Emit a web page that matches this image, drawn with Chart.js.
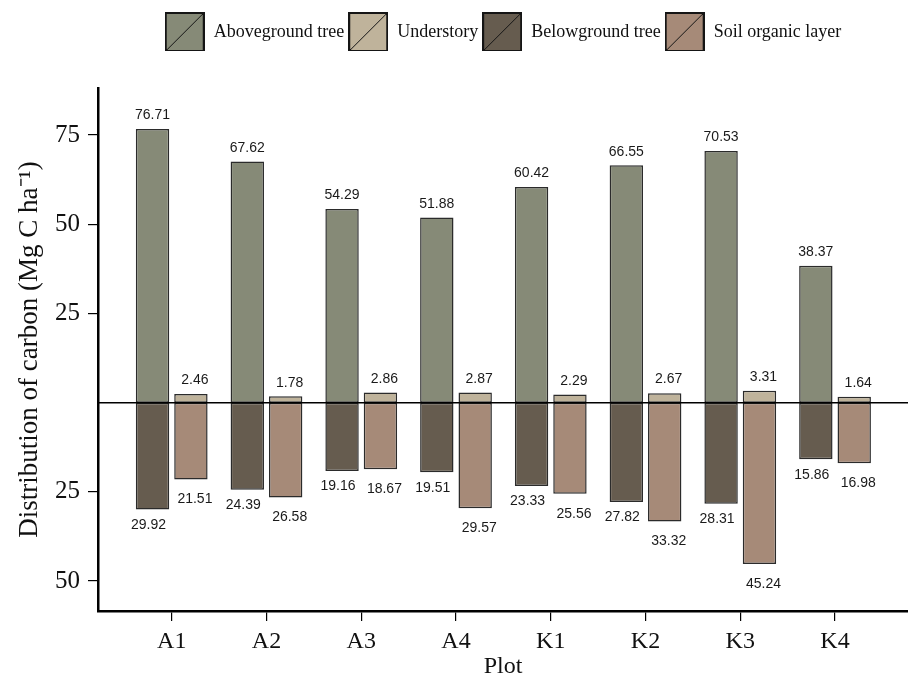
<!DOCTYPE html>
<html>
<head>
<meta charset="utf-8">
<title>Distribution of carbon</title>
<script src="https://cdn.jsdelivr.net/npm/chart.js@4.4.1/dist/chart.umd.min.js"></script>
<style>
  html, body { margin: 0; padding: 0; background: #fff; }
  canvas { display: block; }
</style>
</head>
<body>
<canvas id="grafico" width="908" height="679"></canvas>
<script>
// valori (Mg C ha-1)
const plots = ['A1', 'A2', 'A3', 'A4', 'K1', 'K2', 'K3', 'K4'];
const aboveground = [76.71, 67.62, 54.29, 51.88, 60.42, 66.55, 70.53, 38.37];
const understory = [2.46, 1.78, 2.86, 2.87, 2.29, 2.67, 3.31, 1.64];
const belowground = [29.92, 24.39, 19.16, 19.51, 23.33, 27.82, 28.31, 15.86];
const soil = [21.51, 26.58, 18.67, 29.57, 25.56, 33.32, 45.24, 16.98];
const yTicks = [-50, -25, 25, 50, 75];

const colori = ['#868a77', '#bfb39b', '#665c4f', '#a68a78'];

Chart.defaults.font.family = '"Liberation Serif", "Times New Roman", serif';
Chart.defaults.color = '#111';

// sopra lo zero i valori positivi, sotto quelli negativi
function punti(valori, segno) {
    return valori.map((v, i) => ({ x: i + 1, y: segno * v }));
}

// quadratino della legenda con la diagonale
function iconaLegenda(colore) {
    const c = document.createElement('canvas');
    c.width = 40;
    c.height = 40;
    const g = c.getContext('2d');
    g.fillStyle = colore;
    g.fillRect(1, 1, 38, 38);
    g.strokeStyle = '#151515';
    g.lineWidth = 2;
    g.strokeRect(1, 1, 38, 38);
    g.lineWidth = 1;
    g.beginPath();
    g.moveTo(2, 38);
    g.lineTo(38, 2);
    g.stroke();
    return c;
}
const icone = colori.map(iconaLegenda);

// linea dello zero e numeri sopra/sotto le barre
const etichette = {
    id: 'etichette',
    afterDatasetsDraw(chart) {
        const ctx = chart.ctx;
        const area = chart.chartArea;
        const y0 = chart.scales.y.getPixelForValue(0);

        ctx.save();
        ctx.strokeStyle = '#000';
        ctx.lineWidth = 1.5;
        ctx.beginPath();
        ctx.moveTo(area.left, y0);
        ctx.lineTo(area.right, y0);
        ctx.stroke();

        ctx.font = '14px "Liberation Sans", Arial, sans-serif';
        ctx.fillStyle = '#1a1a1a';
        ctx.textAlign = 'center';
        ctx.textBaseline = 'middle';
        chart.data.datasets.forEach((ds, d) => {
            const destra = ds.stack === 'altro';
            chart.getDatasetMeta(d).data.forEach((bar, i) => {
                const v = ds.data[i].y;
                let x = bar.x;
                let y;
                if (v >= 0) {
                    y = bar.y - 13.5;
                    if (destra) x += 4;
                } else {
                    y = bar.y + (destra ? 20 : 15.5);
                    x += destra ? 4 : -4;
                }
                ctx.fillText(Math.abs(v).toFixed(2), x, y);
            });
        });
        ctx.restore();
    }
};

const grafico = new Chart(document.getElementById('grafico'), {
    type: 'bar',
    data: {
        datasets: [
            { label: 'Aboveground tree', data: punti(aboveground, 1), stack: 'albero', backgroundColor: colori[0] },
            { label: 'Understory', data: punti(understory, 1), stack: 'altro', backgroundColor: colori[1] },
            { label: 'Belowground tree', data: punti(belowground, -1), stack: 'albero', backgroundColor: colori[2] },
            { label: 'Soil organic layer', data: punti(soil, -1), stack: 'altro', backgroundColor: colori[3] }
        ]
    },
    options: {
        responsive: false,
        animation: false,
        layout: { padding: { top: 11, left: 0, right: 0, bottom: 0 } },
        datasets: {
            bar: {
                categoryPercentage: 0.81,
                barPercentage: 0.87,
                borderColor: 'rgba(20, 20, 20, 0.9)',
                borderWidth: 1.5,
                borderSkipped: false
            }
        },
        plugins: {
            legend: {
                fullSize: false,
                // titolo vuoto: serve solo a non tagliare i quadratini
                title: { display: true, text: ' ', font: { size: 5 }, padding: { top: 2, bottom: 0 } },
                labels: {
                    usePointStyle: true,
                    pointStyleWidth: 40,
                    padding: 4,
                    font: { size: 18 },
                    generateLabels: (chart) => chart.data.datasets.map((ds, i) => ({
                        text: ds.label,
                        pointStyle: icone[i],
                        datasetIndex: i,
                        hidden: false,
                        lineWidth: 0,
                        fontColor: '#111'
                    }))
                }
            },
            // spazio vuoto tra legenda e grafico
            title: {
                display: true,
                text: ' ',
                weight: 500,
                fullSize: false,
                font: { size: 10 },
                padding: { top: 0, bottom: 25 }
            },
            tooltip: { enabled: false }
        },
        scales: {
            x: {
                type: 'linear',
                stacked: true,
                offset: false,
                min: 0.222,
                max: 8.77,
                afterBuildTicks: (axis) => {
                    axis.ticks = plots.map((p, i) => ({ value: i + 1 }));
                },
                afterFit: (axis) => { axis.height = 68; },
                grid: { offset: false, drawOnChartArea: false, tickLength: 10, color: '#000', lineWidth: 1.2 },
                border: { color: '#000', width: 2.5 },
                ticks: {
                    callback: (v) => plots[v - 1],
                    autoSkip: false,
                    maxRotation: 0,
                    padding: 6,
                    font: { size: 24 }
                },
                title: {
                    display: true,
                    text: 'Plot',
                    font: { size: 24, lineHeight: 1 },
                    padding: { top: 0, bottom: 0 }
                }
            },
            y: {
                stacked: true,
                min: -58.4,
                max: 88.2,
                afterBuildTicks: (axis) => {
                    axis.ticks = yTicks.map((v) => ({ value: v }));
                },
                afterFit: (axis) => { axis.width = 98; },
                grid: { drawOnChartArea: false, tickLength: 10, color: '#000', lineWidth: 1.2 },
                border: { color: '#000', width: 2.5 },
                ticks: {
                    callback: (v) => Math.abs(v),
                    padding: 8,
                    font: { size: 25 }
                },
                title: {
                    display: true,
                    text: 'Distribution of carbon (Mg C ha⁻¹)',
                    font: { size: 27 },
                    padding: { top: 14, bottom: 0 }
                }
            }
        }
    },
    plugins: [etichette]
});
</script>
</body>
</html>
